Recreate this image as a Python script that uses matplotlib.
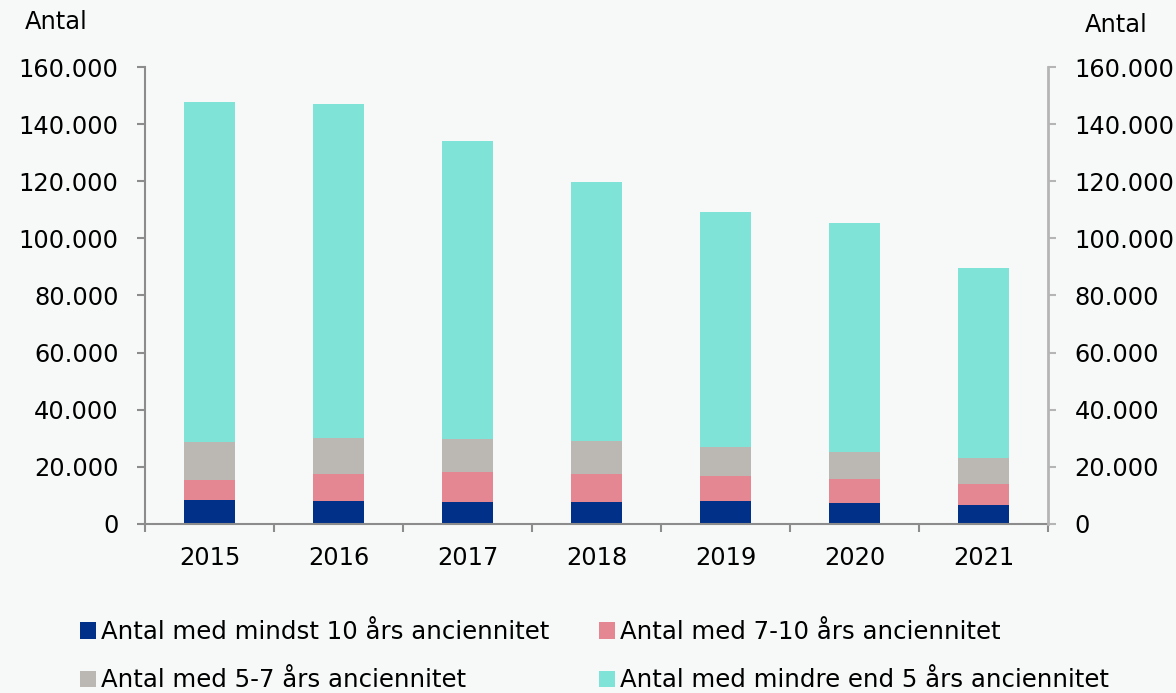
import matplotlib
matplotlib.use("Agg")
import matplotlib.pyplot as plt
import numpy as np
from matplotlib.patches import Patch
from matplotlib.ticker import FuncFormatter, FixedLocator

years = ["2015", "2016", "2017", "2018", "2019", "2020", "2021"]
min10 = [8300, 8100, 7700, 7800, 8100, 7500, 6500]
y7_10 = [7000, 9300, 10500, 9800, 8600, 8100, 7500]
y5_7 = [13300, 12700, 11700, 11500, 10400, 9600, 9000]
lt5 = [119000, 116800, 104300, 90500, 82200, 80100, 66600]

labels = ["Antal med mindst 10 års anciennitet", "Antal med 7-10 års anciennitet",
          "Antal med 5-7 års anciennitet", "Antal med mindre end 5 års anciennitet"]
colors = ["#003087", "#e48793", "#bbb8b3", "#80e3d8"]
yticks = [0, 20000, 40000, 60000, 80000, 100000, 120000, 140000, 160000]

bg = "#f7f9f9"
fs = 17.4
fig = plt.figure(figsize=(11.76, 6.93), dpi=100, facecolor=bg)
ax = fig.add_axes([0.1233, 0.2439, 0.7679, 0.6594])
ax.set_facecolor(bg)

x = np.arange(len(years))
series = [min10, y7_10, y5_7, lt5]
bottom = np.zeros(len(years))
for vals, c in zip(series, colors):
    ax.bar(x, vals, width=0.4, bottom=bottom, color=c, edgecolor="none")
    bottom += np.array(vals)

ax.set_xlim(-0.5, len(years) - 0.5)
ax.set_ylim(0, 160000)
fmt = FuncFormatter(lambda v, p: f"{int(v):,}".replace(",", "."))
ax.yaxis.set_major_locator(FixedLocator(yticks))
ax.yaxis.set_major_formatter(fmt)
ax.set_xticks(x)
ax.set_xticklabels(years)
ax.xaxis.set_minor_locator(FixedLocator(np.arange(-0.5, len(years), 1.0)))
ax.tick_params(axis="x", which="major", length=0, pad=16, labelsize=fs)
ax.tick_params(axis="x", which="minor", length=6, width=1.5, color="#8c8c8c", direction="out")
ax.tick_params(axis="y", length=6, width=1.5, color="#8c8c8c", pad=13, labelsize=fs)

for s in ["top", "right"]:
    ax.spines[s].set_visible(False)
for s in ["left", "bottom"]:
    ax.spines[s].set_color("#8c8c8c")
    ax.spines[s].set_linewidth(1.5)

ax2 = ax.twinx()
ax2.set_ylim(0, 160000)
ax2.yaxis.set_major_locator(FixedLocator(yticks))
ax2.yaxis.set_major_formatter(fmt)
ax2.tick_params(axis="y", length=6, width=1.5, color="#b5b5b5", pad=13, labelsize=fs)
for s in ["top", "left", "bottom"]:
    ax2.spines[s].set_visible(False)
ax2.spines["right"].set_color("#b5b5b5")
ax2.spines["right"].set_linewidth(2)

fig.text(25 / 1176, 1 - 22 / 693, "Antal", fontsize=fs, va="center", ha="left")
fig.text(1085 / 1176, 1 - 25 / 693, "Antal", fontsize=fs, va="center", ha="left")

handles = [Patch(facecolor=c, edgecolor="none") for c in colors]
order = [0, 2, 1, 3]
leg = fig.legend([handles[i] for i in order], [labels[i] for i in order], ncol=2,
                 loc="upper left", bbox_to_anchor=(80 / 1176, 1 - 620 / 693),
                 frameon=False, fontsize=17.6, handlelength=0.65, handleheight=0.65,
                 handletextpad=0.2, columnspacing=2.05, labelspacing=1.0,
                 borderaxespad=0, borderpad=0)

fig.savefig("out.png", dpi=100, facecolor=bg)
